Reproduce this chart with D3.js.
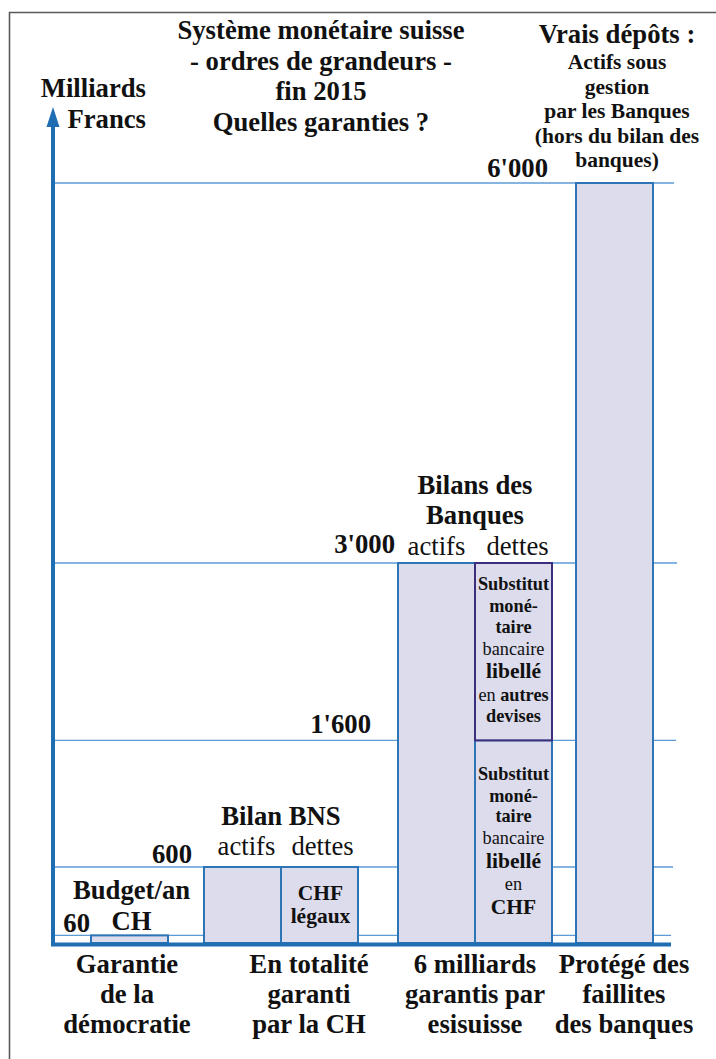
<!DOCTYPE html>
<html><head><meta charset="utf-8">
<script src="https://cdn.jsdelivr.net/npm/d3@7"></script>
<style>
html,body{margin:0;padding:0;background:#fff;}
svg{display:block;}
text{font-family:"Liberation Serif","Times New Roman",serif;fill:#111;}
</style></head>
<body>
<script>
// ---- data ----
const columns = ["budget", "bnsActifs", "bnsDettes", "banquesActifs", "banquesDettes", "depots"];
const barBase = [0, 0, 0, 0, 0, 0];
const barTop = [60, 600, 600, 3000, 1600, 6000];
const stackedBase = [1600];          // dettes en autres devises, from
const stackedTop = [3000];           // ... to
const tickValues = [60, 600, 1600, 3000, 6000];
const tickLabels = ["60", "600", "1'600", "3'000", "6'000"];
const groupLabels = [["Garantie", "de la", "démocratie"], ["En totalité", "garanti", "par la CH"], ["6 milliards", "garantis par", "esisuisse"], ["Protégé des", "faillites", "des banques"]];
const titleLines = ["Système monétaire suisse", "- ordres de grandeurs -", "fin 2015", "Quelles garanties ?"];
const unitLines = ["Milliards", "Francs"];

const W = 716, H = 1059;
const svg = d3.select("body").append("svg").attr("width", W).attr("height", H);

const y = d3.scaleLinear().domain([0, 6000]).range([943, 183]);
const x = d3.scaleOrdinal().domain(columns).range([91, 204, 281, 398, 475, 576]);
const bw = 77;
const groupX = d3.scaleOrdinal().domain([0, 1, 2, 3]).range([127, 309, 475, 624]);

const fill = "#dcdcec", barStroke = "#2e75b6", grid = "#5b9bd5", axisCol = "#1f6db3";
const BIG = 26.7, MED = 21.5, SMALL = 18.3;

// frame
svg.append("path").attr("d", `M9.5,${H + 2}V12.5H${W + 2}`).attr("fill", "none").attr("stroke", "#5a5a5a").attr("stroke-width", 1.6);

// grid lines
const gridEnd = { 60: 671, 600: 673, 1600: 676, 3000: 677, 6000: 674 };
svg.append("g").selectAll("line").data(tickValues).join("line")
  .attr("x1", 55).attr("x2", d => gridEnd[d])
  .attr("y1", d => y(d)).attr("y2", d => y(d))
  .attr("stroke", grid).attr("stroke-width", 1.4);

// bars
svg.append("g").selectAll("rect").data(columns).join("rect")
  .attr("x", d => x(d)).attr("width", bw)
  .attr("y", (d, i) => y(barTop[i])).attr("height", (d, i) => y(barBase[i]) - y(barTop[i]))
  .attr("fill", fill).attr("stroke", barStroke).attr("stroke-width", 2);
svg.append("g").selectAll("rect").data(stackedTop).join("rect")
  .attr("x", x("banquesDettes")).attr("width", bw)
  .attr("y", d => y(d)).attr("height", (d, i) => y(stackedBase[i]) - y(d))
  .attr("fill", fill).attr("stroke", "#3b2f7c").attr("stroke-width", 2);

// axes
svg.append("line").attr("x1", 51).attr("x2", 671).attr("y1", 944.5).attr("y2", 944.5).attr("stroke", axisCol).attr("stroke-width", 4);
svg.append("line").attr("x1", 53).attr("x2", 53).attr("y1", 946).attr("y2", 124).attr("stroke", axisCol).attr("stroke-width", 4);
svg.append("path").attr("d", "M53,107L59.5,127L46.5,127Z").attr("fill", axisCol);

function lines(g, arr, cx, y0, dy, size, weight) {
  arr.forEach((t, i) => {
    g.append("text").attr("x", cx).attr("y", y0 + i * dy).attr("text-anchor", "middle")
      .attr("font-size", size).attr("font-weight", weight || "bold").text(t);
  });
}
const T = svg.append("g");

// title
lines(T, titleLines, 321, 39, 30.5, BIG);
// unit
unitLines.forEach((t, i) => T.append("text").attr("x", 146).attr("y", 97 + i * 31).attr("text-anchor", "end")
  .attr("font-size", BIG).attr("font-weight", "bold").text(t));

// Vrais dépôts header
lines(T, ["Vrais dépôts :"], 617, 43, 0, BIG);
lines(T, ["Actifs sous", "gestion", "par les Banques", "(hors du bilan des", "banques)"], 617, 69, 24.6, MED);

// value labels
const tickLabelRight = { 60: 90, 600: 192, 1600: 371, 3000: 395, 6000: 548 };
const tickLabelDy = { 60: -3, 600: -4, 1600: -7, 3000: -10, 6000: -6 };
tickValues.forEach((v, i) => T.append("text").attr("x", tickLabelRight[v]).attr("y", y(v) + tickLabelDy[v])
  .attr("text-anchor", "end").attr("font-size", BIG).attr("font-weight", "bold").text(tickLabels[i]));

// group headers
lines(T, ["Budget/an", "CH"], x("budget") + bw / 2 + 2, 899, 31, BIG);
lines(T, ["Bilan BNS"], x("bnsDettes"), 825, 0, BIG);
lines(T, ["actifs"], x("bnsActifs") + bw / 2 + 4, 855, 0, BIG, "normal");
lines(T, ["dettes"], x("bnsDettes") + bw / 2 + 3, 855, 0, BIG, "normal");
lines(T, ["CHF", "légaux"], x("bnsDettes") + bw / 2 + 1, 900, 23, MED);
lines(T, ["Bilans des", "Banques"], x("banquesDettes"), 494, 30, BIG);
lines(T, ["actifs"], x("banquesActifs") + bw / 2, 555, 0, BIG, "normal");
lines(T, ["dettes"], x("banquesDettes") + bw / 2 + 4, 555, 0, BIG, "normal");

// inner labels for bank liabilities
function mixed(g, parts, cx, yy, defaultSize) {
  const t = g.append("text").attr("x", cx).attr("y", yy).attr("text-anchor", "middle");
  parts.forEach(p => t.append("tspan").attr("font-size", p[2] || defaultSize).attr("font-weight", p[1] ? "bold" : "normal").text(p[0]));
}
const cx = x("banquesDettes") + bw / 2;
const upper = [[["Substitut", 1]], [["moné-", 1]], [["taire", 1]], [["bancaire", 0]], [["libellé", 1, MED]], [["en ", 0], ["autres", 1]], [["devises", 1]]];
const upperY = [590, 612, 633, 655, 678, 701, 722];
upper.forEach((p, i) => mixed(T, p, cx, upperY[i], SMALL));
const lower = [[["Substitut", 1]], [["moné-", 1]], [["taire", 1]], [["bancaire", 0]], [["libellé", 1, MED]], [["en", 0]], [["CHF", 1, MED]]];
const lowerY = [780, 802, 822, 844, 868, 890, 914];
lower.forEach((p, i) => mixed(T, p, cx, lowerY[i], SMALL));

// bottom labels
groupLabels.forEach((arr, i) => lines(T, arr, groupX(i), 973, 30, BIG));
</script>
</body></html>
